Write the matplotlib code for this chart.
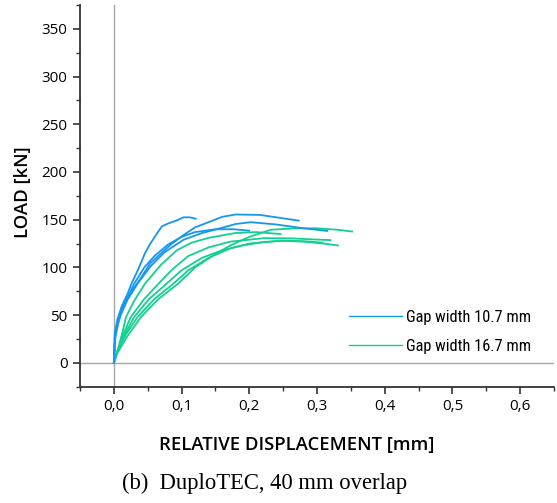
import matplotlib
matplotlib.use("Agg")
import matplotlib.pyplot as plt
from matplotlib.ticker import MultipleLocator, FuncFormatter
from matplotlib.lines import Line2D
from matplotlib import font_manager

# ---------------- data ----------------
b1_x = [0, 0.0015, 0.005, 0.012, 0.02, 0.026, 0.036, 0.046, 0.054, 0.064, 0.071, 0.08, 0.092, 0.103, 0.112, 0.121]
b1_y = [0, 30, 45, 60, 72, 83, 98, 115, 125, 136, 143, 146, 149, 152.5, 152.5, 151]
b2_x = [0, 0.0015, 0.008, 0.015, 0.025, 0.039, 0.054, 0.073, 0.086, 0.103, 0.12, 0.142, 0.16, 0.18, 0.216, 0.245, 0.273]
b2_y = [0, 32, 50, 62, 74, 88, 104.5, 117, 125, 134, 142, 148, 153, 155.5, 155, 152, 149]
b3_x = [0, 0.002, 0.01, 0.02, 0.035, 0.054, 0.075, 0.103, 0.13, 0.152, 0.18, 0.202, 0.24, 0.28, 0.315]
b3_y = [0, 30, 50, 66, 83, 101, 116, 129, 136, 140, 145.5, 147.4, 145, 141, 138.3]
b4_x = [0, 0.002, 0.007, 0.018, 0.03, 0.045, 0.06, 0.08, 0.1, 0.12, 0.15, 0.177, 0.2]
b4_y = [0, 25, 45, 65, 83, 100, 112, 124, 132, 137, 140, 140, 138.5]

g1_x = [0, 0.005, 0.02, 0.04, 0.066, 0.095, 0.12, 0.152, 0.172, 0.2, 0.232, 0.27, 0.3, 0.33, 0.352]
g1_y = [0, 10, 28, 48, 67, 83, 100, 115, 123, 132, 139.5, 141, 141, 139.5, 137.6]
g2_x = [0, 0.006, 0.014, 0.025, 0.045, 0.066, 0.085, 0.11, 0.14, 0.172, 0.221, 0.26, 0.29, 0.32]
g2_y = [0, 14, 30, 48, 67, 83, 97, 112, 121, 127, 130.6, 130.5, 129.5, 128.6]
g3_x = [0, 0.006, 0.018, 0.035, 0.06, 0.088, 0.11, 0.14, 0.172, 0.2, 0.246, 0.28, 0.31, 0.331]
g3_y = [0, 14, 30, 48, 67, 83, 97, 110, 120, 125, 128, 127, 125, 123]
g4_x = [0, 0.005, 0.016, 0.03, 0.052, 0.078, 0.1, 0.13, 0.16, 0.19, 0.22, 0.25, 0.28, 0.308]
g4_y = [0, 12, 30, 48, 67, 83, 97, 110, 118, 123, 126.5, 128, 127.5, 126]
g5_x = [0, 0.006, 0.012, 0.018, 0.03, 0.046, 0.07, 0.093, 0.115, 0.14, 0.179, 0.21, 0.246]
g5_y = [0, 14, 30, 48, 65, 83, 103, 118, 126, 131, 136, 137, 135]

blue_curves = [(b1_x, b1_y), (b2_x, b2_y), (b3_x, b3_y), (b4_x, b4_y)]
green_curves = [(g1_x, g1_y), (g2_x, g2_y), (g3_x, g3_y), (g4_x, g4_y), (g5_x, g5_y)]
series_labels = ["Gap width 10.7 mm", "Gap width 16.7 mm"]

x_label = "RELATIVE DISPLACEMENT [mm]"
y_label = "LOAD [kN]"
caption = "(b)  DuploTEC, 40 mm overlap"

BLUE = "#1596f2"
GREEN = "#12cf92"

# ---------------- fonts ----------------
available = {f.name for f in font_manager.fontManager.ttflist}
def pick(cands):
    for c in cands:
        if c in available:
            return c
    return "DejaVu Sans"
sans = pick(["Open Sans", "Noto Sans", "DejaVu Sans"])
narrow = pick(["Liberation Sans Narrow", "Roboto Condensed", "Open Sans Condensed", "Roboto"])
serif = pick(["Liberation Serif", "DejaVu Serif"])

plt.rcParams['font.family'] = [sans, 'DejaVu Sans']

fig = plt.figure(figsize=(5.57, 5.03), dpi=100)
W, H = 557, 503
ax = fig.add_axes([80 / W, 1 - 386.7 / H, (554 - 80) / W, (386.7 - 5) / H])

ax.axhline(0, color="#a6a6a6", lw=1.0, zorder=1)
ax.axvline(0, color="#a6a6a6", lw=1.0, zorder=1)

for xs, ys in green_curves:
    ax.plot(xs, ys, color=GREEN, lw=1.3, zorder=3, solid_joinstyle="round")
for xs, ys in blue_curves:
    ax.plot(xs, ys, color=BLUE, lw=1.3, zorder=4, solid_joinstyle="round")

ax.set_xlim(-0.05, 0.65)
ax.set_ylim(-25, 375)

for s in ["top", "right"]:
    ax.spines[s].set_visible(False)
for s in ["left", "bottom"]:
    ax.spines[s].set_linewidth(1.3)
    ax.spines[s].set_color("#333333")

ax.xaxis.set_minor_locator(MultipleLocator(0.05))
ax.yaxis.set_minor_locator(MultipleLocator(25))
ax.set_yticks([t for t in range(0, 351, 50)])
ax.set_xticks([0, 0.1, 0.2, 0.3, 0.4, 0.5, 0.6])
ax.xaxis.set_major_formatter(FuncFormatter(lambda v, p: f"{v:.1f}".replace(".", ",").replace("-0,0", "0,0")))
ax.yaxis.set_major_formatter(FuncFormatter(lambda v, p: f"{v:.0f}"))
ax.tick_params(which="major", direction="out", length=5, width=1.2, color="#333333",
               labelsize=11, pad=4)
ax.tick_params(which="minor", direction="out", length=3, width=1.0, color="#333333")

fig.text(296.5 / W, 1 - 445 / H, x_label, ha="center", va="center",
         fontsize=13.3, fontweight="semibold", family=[sans, 'DejaVu Sans'])
fig.text(23.5 / W, 1 - 192 / H, y_label, ha="center", va="center", rotation=90,
         fontsize=13.3, fontweight="semibold", family=[sans, 'DejaVu Sans'])
fig.text(265 / W, 1 - 483 / H, caption, ha="center", va="center",
         fontsize=16.3, family=[serif, 'DejaVu Serif'])

handles = [Line2D([], [], color=BLUE, lw=1.0), Line2D([], [], color=GREEN, lw=1.0)]
fs = 11.8
leg = ax.legend(handles, series_labels, loc="upper left",
                bbox_to_anchor=(349 / W, 1 - 310 / H), bbox_transform=fig.transFigure,
                frameon=False, handlelength=53 / (fs * 100 / 72),
                handletextpad=0.22, labelspacing=0.85, borderpad=0, borderaxespad=0,
                prop={"family": [narrow, 'DejaVu Sans'], "size": fs})

fig.savefig("out.png", dpi=100)
